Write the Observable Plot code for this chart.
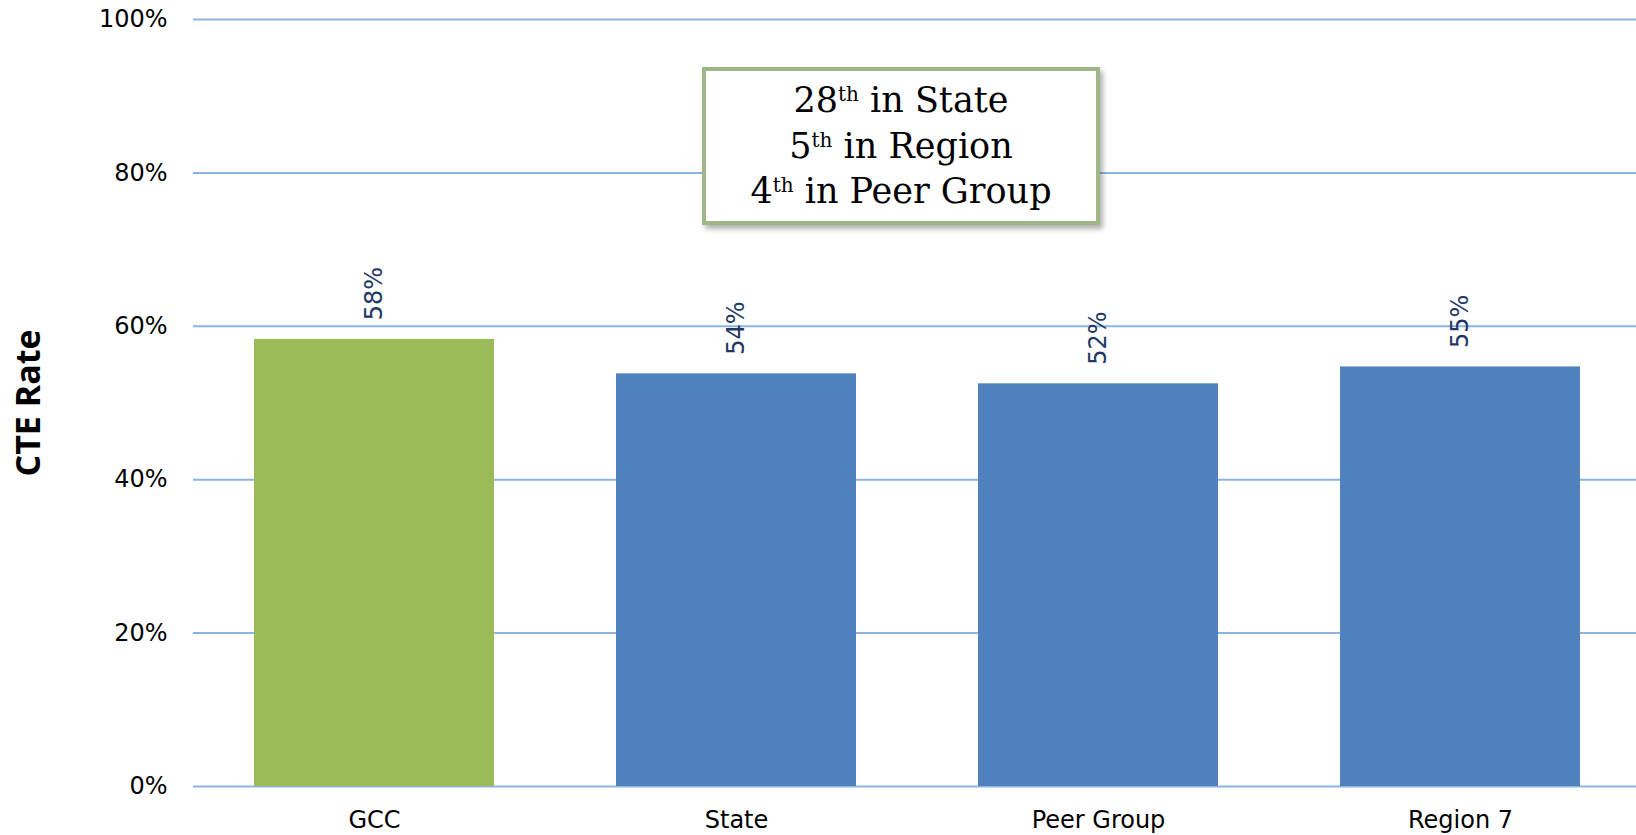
<!DOCTYPE html>
<html><head><meta charset="utf-8">
<script src="https://cdn.jsdelivr.net/npm/d3@7"></script>
<script src="https://cdn.jsdelivr.net/npm/@observablehq/plot@0.6"></script>
<style>
body{margin:0;background:#fff;}
#wrap{position:relative;width:1636px;height:835px;overflow:hidden;}
#note{position:absolute;left:702px;top:67px;width:398px;height:158px;box-sizing:border-box;border:4px solid #a0b686;background:#fff;box-shadow:3px 4px 5px rgba(0,0,0,0.3);font-family:"DejaVu Serif";font-size:35px;line-height:45.5px;text-align:center;padding-top:7px;color:#000;}
#note .sup{font-size:20px;line-height:0;vertical-align:11px;}
</style>
</head><body>
<div id="wrap"></div>
<script>
const categories = ["GCC", "State", "Peer Group", "Region 7"];
const values = [0.583, 0.538, 0.525, 0.547];
const valueLabels = ["58%", "54%", "52%", "55%"];
const barColors = ["#9bbb59", "#4f81bd", "#4f81bd", "#4f81bd"];
const yTicks = [0, 0.2, 0.4, 0.6, 0.8, 1];
const yTickLabels = ["0%", "20%", "40%", "60%", "80%", "100%"];
const yTitle = "CTE Rate";
const rankNumbers = ["28", "5", "4"];
const rankSuffixes = ["th", "th", "th"];
const rankTexts = [" in State", " in Region", " in Peer Group"];

const data = categories.map((c, i) => ({cat: c, value: values[i], label: valueLabels[i], color: barColors[i]}));

const chart = Plot.plot({
  width: 1636, height: 835,
  marginTop: 19, marginBottom: 49, marginLeft: 193, marginRight: 0,
  style: {fontFamily: "DejaVu Sans", fontSize: "24px", color: "#000", background: "#fff"},
  x: {domain: categories, range: [193, 1641], paddingInner: 0.337, paddingOuter: 0.1685, label: null, tickSize: 0, tickPadding: 24},
  y: {domain: [0, 1], ticks: yTicks, label: null, tickSize: 0, tickPadding: 26,
      tickFormat: d => yTickLabels[yTicks.findIndex(t => Math.abs(t - d) < 1e-9)]},
  color: {type: "identity"},
  marks: [
    Plot.ruleY(yTicks, {stroke: "#8db3e2", strokeWidth: 2}),
    Plot.barY(data, {x: "cat", y: "value", fill: "color"}),
    Plot.text(data, {x: "cat", y: "value", text: "label", rotate: -90, textAnchor: "start", dy: -19, fill: "#1f3864", fontSize: 24}),
    Plot.text([yTitle], {frameAnchor: "left", textAnchor: "middle", dx: -164, rotate: -90, fontWeight: "bold", fontSize: 34, fontFamily: "Open Sans", fill: "#000"})
  ]
});
const wrap = document.getElementById("wrap");
wrap.appendChild(chart);
const note = document.createElement("div");
note.id = "note";
note.innerHTML = rankNumbers.map((n, i) => `<div>${n}<span class="sup">${rankSuffixes[i]}</span>${rankTexts[i]}</div>`).join("");
wrap.appendChild(note);
</script>
</body></html>
